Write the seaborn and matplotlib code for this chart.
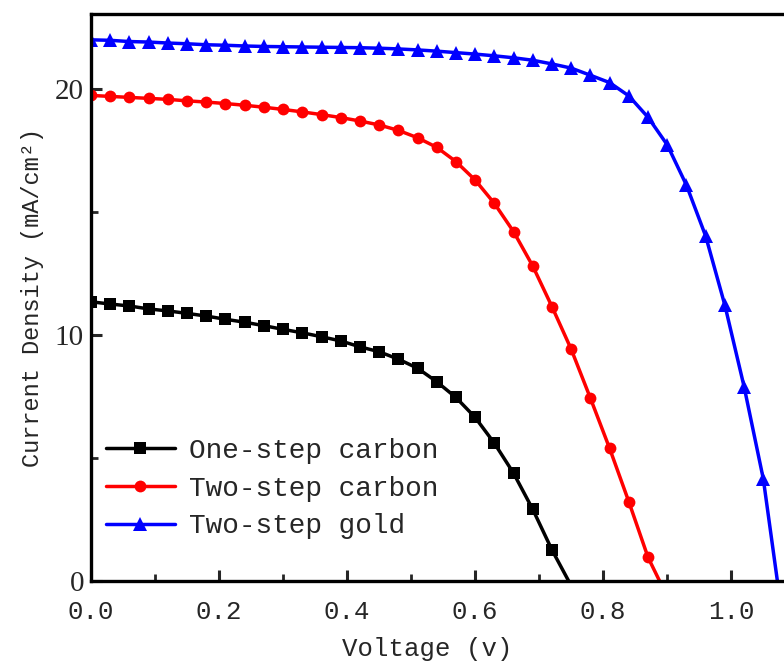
import numpy as np
import pandas as pd
import matplotlib
matplotlib.use("Agg")
import matplotlib.pyplot as plt
import seaborn as sns
from matplotlib.ticker import MultipleLocator

# ---- data ----
v_one = [0.00, 0.03, 0.06, 0.09, 0.12, 0.15, 0.18, 0.21, 0.24, 0.27, 0.30, 0.33,
         0.36, 0.39, 0.42, 0.45, 0.48, 0.51, 0.54, 0.57, 0.60, 0.63, 0.66, 0.69,
         0.72, 0.746]
j_one = [11.35, 11.26, 11.18, 11.06, 10.98, 10.88, 10.77, 10.64, 10.52, 10.38,
         10.23, 10.09, 9.93, 9.76, 9.52, 9.32, 9.02, 8.65, 8.10, 7.46, 6.65,
         5.60, 4.38, 2.91, 1.26, 0.0]

v_two_c = [0.00, 0.03, 0.06, 0.09, 0.12, 0.15, 0.18, 0.21, 0.24, 0.27, 0.30, 0.33,
           0.36, 0.39, 0.42, 0.45, 0.48, 0.51, 0.54, 0.57, 0.60, 0.63, 0.66, 0.69,
           0.72, 0.75, 0.78, 0.81, 0.84, 0.87, 0.888]
j_two_c = [19.74, 19.70, 19.66, 19.62, 19.58, 19.52, 19.47, 19.41, 19.34, 19.26,
           19.17, 19.07, 18.96, 18.84, 18.70, 18.54, 18.32, 18.02, 17.63, 17.05,
           16.30, 15.35, 14.20, 12.80, 11.15, 9.42, 7.43, 5.39, 3.22, 0.96, 0.0]

v_two_g = [0.00, 0.03, 0.06, 0.09, 0.12, 0.15, 0.18, 0.21, 0.24, 0.27, 0.30, 0.33,
           0.36, 0.39, 0.42, 0.45, 0.48, 0.51, 0.54, 0.57, 0.60, 0.63, 0.66, 0.69,
           0.72, 0.75, 0.78, 0.81, 0.84, 0.87, 0.90, 0.93, 0.96, 0.99, 1.02, 1.05,
           1.072]
j_two_g = [22.00, 21.98, 21.93, 21.91, 21.87, 21.84, 21.80, 21.78, 21.75, 21.73,
           21.72, 21.71, 21.70, 21.69, 21.68, 21.66, 21.63, 21.59, 21.54, 21.48,
           21.42, 21.35, 21.27, 21.17, 21.02, 20.85, 20.56, 20.26, 19.72, 18.85,
           17.73, 16.09, 14.02, 11.21, 7.90, 4.15, 0.0]

labels = ["One-step carbon", "Two-step carbon", "Two-step gold"]
colors = ["#000000", "#ff0000", "#0000ff"]
markers = ["s", "o", "^"]
msizes = [8.5, 8.5, 9.5]
x_ticks = [0.0, 0.2, 0.4, 0.6, 0.8, 1.0]
x_tick_labels = ["0.0", "0.2", "0.4", "0.6", "0.8", "1.0"]
y_ticks = [0, 10, 20]

sns.set_style("ticks")
plt.rcParams["font.family"] = ["Liberation Mono", "DejaVu Sans"]

fig = plt.figure(figsize=(7.84, 6.61), dpi=100)
ax = fig.add_axes([91 / 784, 1 - 581 / 661, 1 - 91 / 784 + 0.003, (581 - 14) / 661])

series = [(v_one, j_one), (v_two_c, j_two_c), (v_two_g, j_two_g)]
for (v, j), lab, c, m, ms in zip(series, labels, colors, markers, msizes):
    df = pd.DataFrame({"Voltage": v, "J": j})
    n = len(v)
    sns.lineplot(data=df, x="Voltage", y="J", ax=ax, color=c, marker=m,
                 markersize=ms, markeredgewidth=0, linewidth=2.5,
                 markevery=list(range(n - 1)), label=lab, sort=False,
                 estimator=None)

ax.set_xlim(0, 1.086)
ax.set_ylim(0, 23.05)
ax.set_xticks(x_ticks)
ax.set_xticklabels(x_tick_labels, fontsize=18.5)
ax.set_yticks(y_ticks)
ax.set_yticklabels([str(t) for t in y_ticks], fontsize=21, family="Liberation Serif")
ax.xaxis.set_minor_locator(MultipleLocator(0.1))
ax.yaxis.set_minor_locator(MultipleLocator(5))
ax.tick_params(which="major", direction="in", length=8, width=2.2)
ax.tick_params(which="minor", direction="in", length=5, width=2.0)
ax.tick_params(axis="x", which="major", pad=14)
ax.tick_params(axis="y", which="major", pad=5)
ax.tick_params(top=False, right=False, which="both")

for s in ["left", "bottom", "top"]:
    ax.spines[s].set_linewidth(2.4)
    ax.spines[s].set_color("black")
ax.spines["right"].set_visible(False)

ax.set_xlabel("Voltage (v)", fontsize=18.5)
ax.xaxis.set_label_coords(0.483, -0.098)
ax.set_ylabel("Current Density (mA/cm²)", fontsize=17, labelpad=8)

leg = ax.legend(loc="upper left", bbox_to_anchor=(0.021, 0.252), frameon=False,
                fontsize=20, handlelength=2.5, handletextpad=0.5,
                labelspacing=0.42, borderpad=0, borderaxespad=0)

fig.savefig("out.png", dpi=100)
